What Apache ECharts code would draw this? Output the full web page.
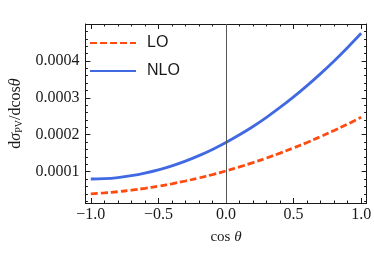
<!DOCTYPE html>
<html><head><meta charset="utf-8">
<script src="https://cdn.jsdelivr.net/npm/echarts@6/dist/echarts.min.js"></script>
<style>html,body{margin:0;padding:0;background:#fff}#c{width:374px;height:264px}</style>
</head><body><div id="c"></div>
<script>
var cosTheta = [-1.0,-0.9,-0.8,-0.7,-0.6,-0.5,-0.4,-0.3,-0.2,-0.1,0.0,0.1,0.2,0.3,0.4,0.5,0.6,0.7,0.8,0.9,1.0];
var loValues = [0.0000397,0.0000422,0.0000455,0.0000497,0.0000547,0.0000606,0.0000671,0.0000746,0.0000830,0.0000920,0.000102,0.0001128,0.0001244,0.0001368,0.0001501,0.0001643,0.0001791,0.0001949,0.0002115,0.0002288,0.0002471];
var nloValues = [0.0000800,0.0000810,0.0000840,0.0000890,0.0000960,0.0001048,0.0001158,0.0001286,0.0001434,0.0001602,0.000179,0.0001998,0.0002224,0.0002472,0.0002738,0.0003024,0.0003330,0.0003656,0.0004000,0.0004366,0.0004750];
var xMajorTicks = [-1.0,-0.5,0.0,0.5,1.0];
var xMinorTicks = [-1.0,-0.9,-0.8,-0.7,-0.6,-0.5,-0.4,-0.3,-0.2,-0.1,0.0,0.1,0.2,0.3,0.4,0.5,0.6,0.7,0.8,0.9,1.0];
var yMajorTicks = [0.0001,0.0002,0.0003,0.0004];
var yMinorTicks = [0.00002,0.00004,0.00006,0.00008,0.0001,0.00012,0.00014,0.00016,0.00018,0.0002,0.00022,0.00024,0.00026,0.00028,0.0003,0.00032,0.00034,0.00036,0.00038,0.0004,0.00042,0.00044,0.00046,0.00048];
var seriesNames = ['LO','NLO'];

var serif = 'Liberation Serif';
var ink = '#1a1a1a';
function pairs(xs, ys){ return xs.map(function(x,i){ return [x, ys[i]]; }); }
function xAx(pos, major, labels){
  return {type:'value', min:-1.04, max:1.04, position:pos,
    axisLine:{show:major, onZero:false, lineStyle:{color:ink, width:1}},
    axisTick:{show:true, inside:true, length: major?5:2.5, customValues: major?xMajorTicks:xMinorTicks, lineStyle:{color:ink,width:1}},
    axisLabel:{show:labels, customValues:xMajorTicks, margin:4, fontFamily:serif, fontSize:16, color:ink,
      formatter:function(v){ return (v<0?'\u2212':'') + Math.abs(v).toFixed(1); }},
    splitLine:{show:false},
    name: labels ? '{n|cos }{i|θ}' : '', nameLocation:'middle', nameGap:27,
    nameTextStyle:{rich:{n:{fontFamily:serif,fontSize:15,color:ink},i:{fontFamily:serif,fontSize:15,fontStyle:'italic',color:ink}}}
  };
}
function yAx(pos, major, labels){
  return {type:'value', min:0.000015, max:0.0005, position:pos,
    axisLine:{show:major, onZero:false, lineStyle:{color:ink, width:1}},
    axisTick:{show:true, inside:true, length: major?5:2.5, customValues: major?yMajorTicks:yMinorTicks, lineStyle:{color:ink,width:1}},
    axisLabel:{show:labels, customValues:yMajorTicks, margin:6, fontFamily:serif, fontSize:16, color:ink,
      formatter:function(v){ return v.toFixed(4); }},
    splitLine:{show:false},
    name: labels ? '{n|d}{i|σ}{s|PV}{n|/dcos}{i|θ}' : '', nameLocation:'middle', nameGap:58, nameRotate:90,
    nameTextStyle:{rich:{
      n:{fontFamily:serif,fontSize:16,color:ink},
      i:{fontFamily:serif,fontSize:16,fontStyle:'italic',color:ink},
      s:{fontFamily:serif,fontSize:10,color:ink,padding:[7,0,0,0]}
    }}
  };
}
var chart = echarts.init(document.getElementById('c'), null, {renderer:'canvas'});
chart.setOption({
  animation:false,
  backgroundColor:'#fff',
  grid:{left:77, right:7, top:24, bottom:61},
  legend:{orient:'vertical', left:84, top:30, itemWidth:46, itemHeight:18, itemGap:12,
    itemStyle:{opacity:0},
    textStyle:{fontFamily:'Liberation Sans', fontSize:16, color:ink, padding:[0,0,0,6]},
    data:seriesNames},
  xAxis:[xAx('bottom',true,true), xAx('bottom',false,false), xAx('top',true,false), xAx('top',false,false)],
  yAxis:[yAx('left',true,true), yAx('left',false,false), yAx('right',true,false), yAx('right',false,false)],
  series:[
    {name:seriesNames[0], type:'line', smooth:0.4, symbol:'none', data:pairs(cosTheta, loValues),
      lineStyle:{color:'#FF4A10', width:2.8, type:[7,3]}, itemStyle:{color:'#FF4A10'}, z:3,
      markLine:{silent:true, symbol:'none', label:{show:false}, lineStyle:{color:'#555', width:1, type:'solid'}, data:[{xAxis:0}]}},
    {name:seriesNames[1], type:'line', smooth:0.4, symbol:'none', data:pairs(cosTheta, nloValues),
      lineStyle:{color:'#4169E1', width:2.8}, itemStyle:{color:'#4169E1'}, z:4}
  ]
});
</script></body></html>
